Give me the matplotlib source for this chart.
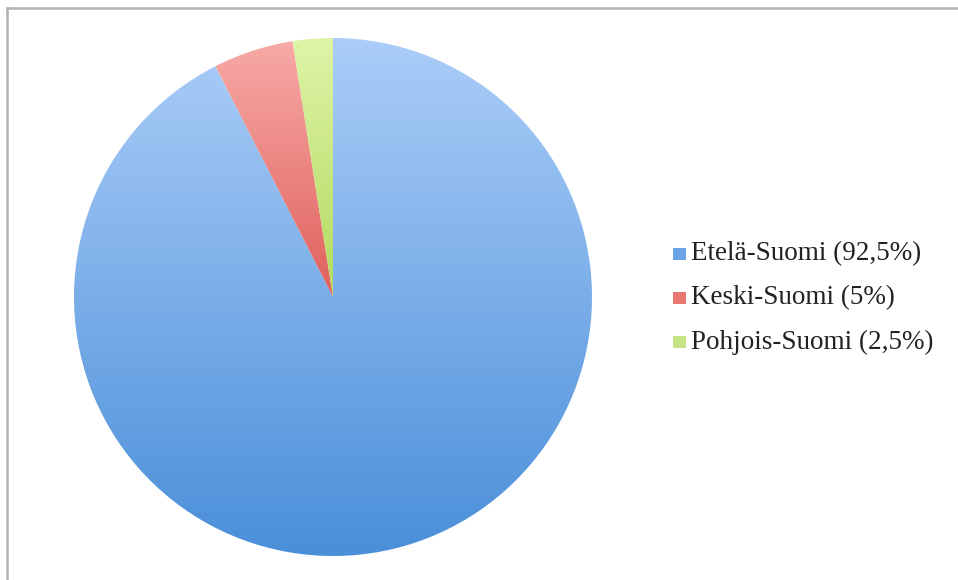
import matplotlib.pyplot as plt
import numpy as np
from matplotlib.lines import Line2D
from matplotlib.colors import LinearSegmentedColormap

# Chart data
labels = ["Etelä-Suomi (92,5%)", "Keski-Suomi (5%)", "Pohjois-Suomi (2,5%)"]
shares = [92.5, 5, 2.5]
# gradient colours per slice: (top, bottom)
grads = [("#abcdf8", "#4a8fd9"), ("#f7aaa7", "#e0605b"), ("#def4a8", "#b3da5e")]
legend_colors = ["#6aa3e6", "#e87772", "#c4e486"]

fig = plt.figure(figsize=(9.58, 5.8), dpi=100)

# frame like the original chart area (only top and left edges visible)
fig.add_artist(Line2D([7 / 958, 7 / 958], [0, 1 - 8 / 580], transform=fig.transFigure,
                      color="#b3b3b3", lw=1.8))
fig.add_artist(Line2D([7 / 958, 1], [1 - 8 / 580, 1 - 8 / 580], transform=fig.transFigure,
                      color="#b3b3b3", lw=1.8))

ax = fig.add_axes([74 / 958, 24 / 580, 518 / 958, 518 / 580])
wedges, _ = ax.pie(shares, startangle=90, counterclock=False, radius=1,
                   wedgeprops=dict(linewidth=0, edgecolor="none"))

# fill each wedge with a vertical gradient
for w, (top, bottom) in zip(wedges, grads):
    w.set_facecolor("none")
    bb = w.get_path().get_extents()
    cmap = LinearSegmentedColormap.from_list("g", [bottom, top])
    grad = np.linspace(0, 1, 256).reshape(-1, 1)
    im = ax.imshow(grad, cmap=cmap, origin="lower", aspect="auto",
                   extent=[bb.x0, bb.x1, bb.y0, bb.y1], interpolation="bicubic")
    im.set_clip_path(w)
ax.set_xlim(-1, 1)
ax.set_ylim(-1, 1)
ax.axis("off")

# legend
ys = [254, 298, 342]
for lab, col, y in zip(labels, legend_colors, ys):
    fy = 1 - y / 580
    fig.patches.append(plt.Rectangle((673 / 958, fy - 6 / 580), 13 / 958, 12 / 580,
                                     transform=fig.transFigure, facecolor=col,
                                     edgecolor="none"))
    fig.text(691 / 958, fy, lab, fontsize=19.5, family="Liberation Serif",
             va="center", ha="left", color="#222222")

plt.savefig("out.png", dpi=100)
